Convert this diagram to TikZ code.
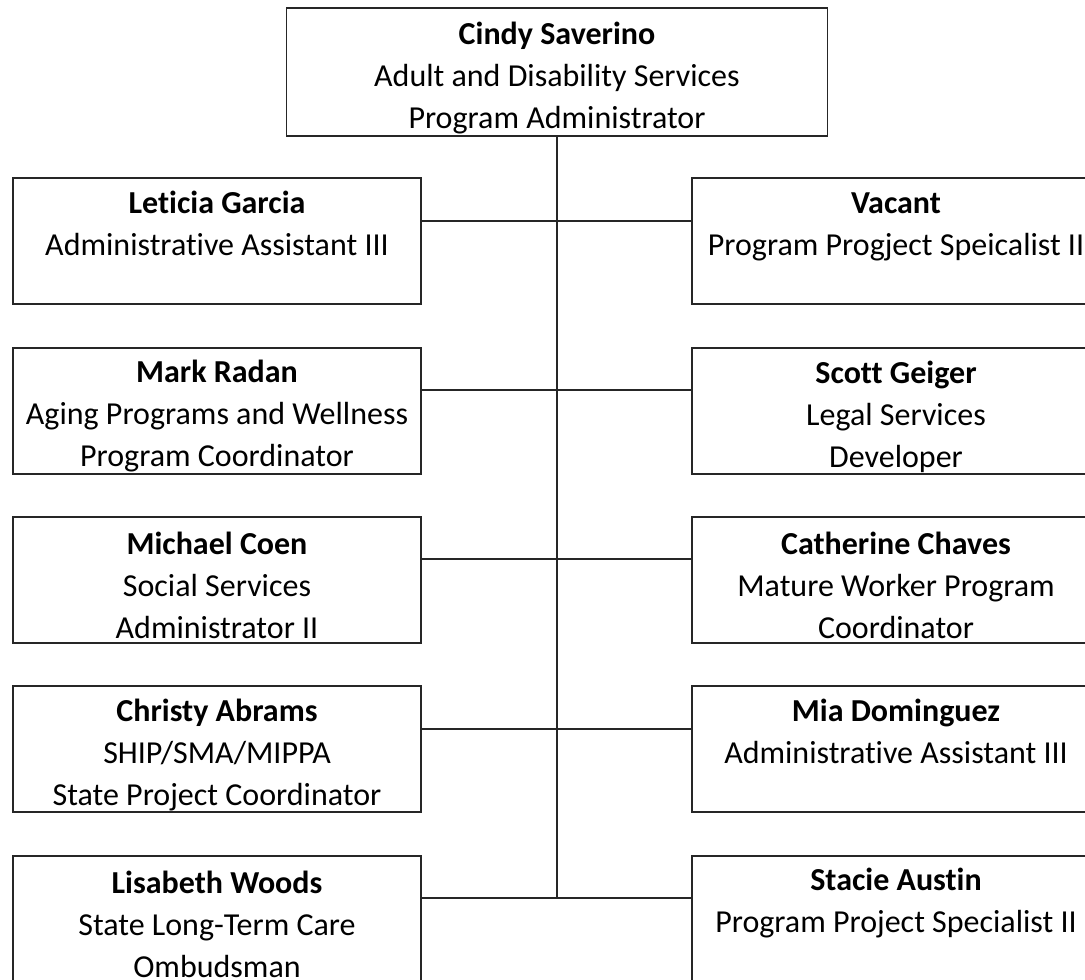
\documentclass[tikz,border=0pt]{standalone}
\usepackage{fontspec}
\setmainfont{Carlito}[Ligatures=NoCommon]
\newcommand\who[1]{\rule{0pt}{25.5pt}\textbf{#1}}
\tikzset{%
            base/.style = {rectangle, draw=black!85, line width=1.4pt,
                           minimum height=94.5pt, inner sep=0pt,
                           text centered, align=center,
                           font=\fontsize{24}{31.5}\selectfont},
  boss/.style  = {base, minimum width=405.75pt, minimum height=96pt},
  staff/.style = {base, minimum width=306pt},
  link/.style  = {draw=black!85, line width=1.5pt},
}
\begin{document}
\begin{tikzpicture}[node distance=127pt]
  \useasboundingbox (0pt,0pt) rectangle (813.75pt,-735pt);

  \node (onSaverino) [boss] at (417.75pt,-54pt)
        {\who{Cindy Saverino}\\Adult and Disability Services\\Program Administrator};

  \node (onGarcia)  [staff, below of=onSaverino, xshift=-255pt]
        {\who{Leticia Garcia}\\Administrative Assistant III\\\phantom{Pg}};
  \node (onRadan)   [staff, below of=onGarcia]
        {\who{Mark Radan}\\Aging Programs and Wellness\\Program Coordinator};
  \node (onCoen)    [staff, below of=onRadan]
        {\who{Michael Coen}\\Social Services\\Administrator II};
  \node (onAbrams)  [staff, below of=onCoen]
        {\who{Christy Abrams}\\SHIP/SMA/MIPPA\\State Project Coordinator};
  \node (onWoods)   [staff, below of=onAbrams]
        {\who{Lisabeth Woods}\\State Long-Term Care\\Ombudsman};

  \node (onVacant)  [staff, below of=onSaverino, xshift=254.25pt]
        {\who{Vacant}\\Program Progject Speicalist II\\\phantom{Pg}};
  \node (onGeiger)  [staff, below of=onVacant]
        {\who{Scott Geiger}\\Legal Services\\Developer};
  \node (onChaves)  [staff, below of=onGeiger]
        {\who{Catherine Chaves}\\Mature Worker Program\\Coordinator};
  \node (onDominguez) [staff, below of=onChaves]
        {\who{Mia Dominguez}\\Administrative Assistant III\\\phantom{Pg}};
  \node (onAustin)  [staff, below of=onDominguez]
        {\who{Stacie Austin}\\Program Project Specialist II\\\phantom{Pg}};

  % trunk and branches
  \draw[link] (onSaverino.south) -- ([yshift=15.4pt]onSaverino.south |- onWoods.east);
  \foreach \l/\r in {onGarcia/onVacant, onRadan/onGeiger, onCoen/onChaves,
                     onAbrams/onDominguez, onWoods/onAustin}
    \draw[link] ([yshift=15.4pt]\l.east) -- ([yshift=15.4pt]\r.west);
\end{tikzpicture}
\end{document}
